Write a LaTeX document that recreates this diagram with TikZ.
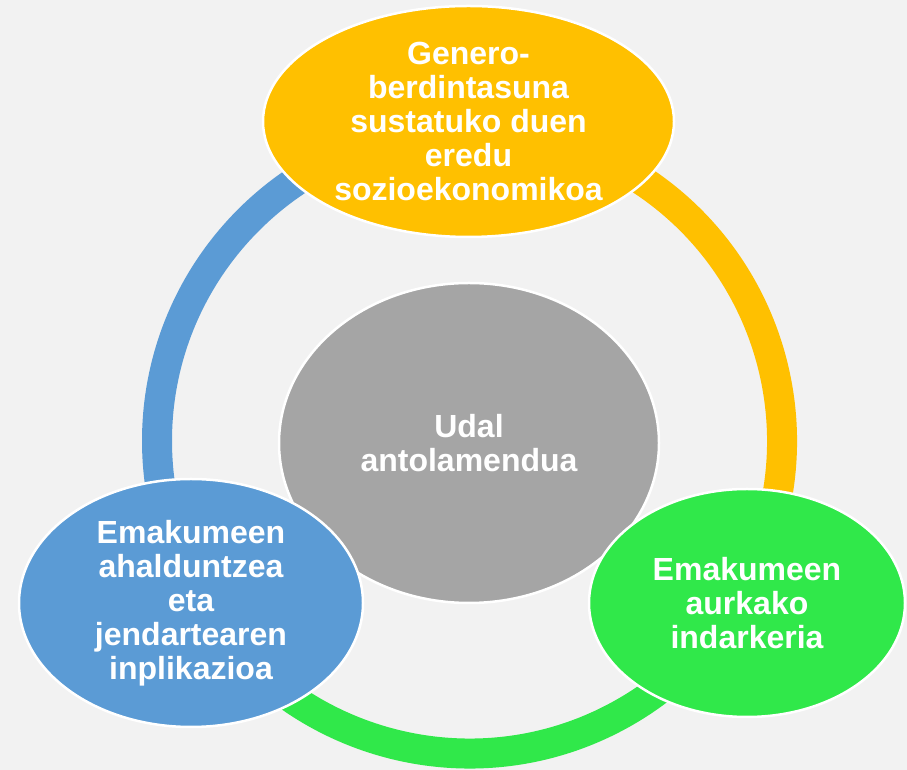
\documentclass[tikz,border=0pt]{standalone}
\usepackage{fontspec}
\setmainfont{Liberation Sans}
\usetikzlibrary{shapes.geometric}
\definecolor{bgc}{HTML}{F2F2F2}
\definecolor{yelc}{HTML}{FFC000}
\definecolor{bluc}{HTML}{5B9BD5}
\definecolor{grnc}{HTML}{30E84A}
\definecolor{gryc}{HTML}{A5A5A5}
\tikzset{
  ringarc/.style={line width=30pt},
  blob/.style={ellipse, draw=white, line width=2.5pt, inner sep=0pt},
  txt/.style={text=white, align=center, font=\fontsize{32}{34}\selectfont\bfseries, inner sep=0pt}
}
\begin{document}
\begin{tikzpicture}[x=1pt,y=1pt]
\fill[bgc] (0,0) rectangle (907,770);
\useasboundingbox (0,0) rectangle (907,770);
\coordinate (rc) at (469.5,329);
% ring arcs
\draw[ringarc, bluc] ([shift={(90:312.5)}]rc) arc[start angle=90, end angle=210, radius=312.5];
\draw[ringarc, yelc] ([shift={(-30:312.5)}]rc) arc[start angle=-30, end angle=90, radius=312.5];
\draw[ringarc, grnc] ([shift={(210:312.5)}]rc) arc[start angle=210, end angle=330, radius=312.5];
% ellipses
\node[blob, fill=gryc, minimum width=380pt, minimum height=320pt] (ud) at (469,327) {};
\node[blob, fill=yelc, minimum width=411pt, minimum height=231pt] (ge) at (468.5,648.5) {};
\node[blob, fill=bluc, minimum width=344pt, minimum height=248pt] (ah) at (191,167) {};
\node[blob, fill=grnc, minimum width=316pt, minimum height=228pt] (ind) at (747,167) {};
% texts
\node[txt] (udt) at (ud) {Udal\\antolamendua};
\node[txt] (get) at (ge) {Genero-\\berdintasuna\\sustatuko duen\\eredu\\sozioekonomikoa};
\node[txt] (aht) at (ah) {Emakumeen\\ahalduntzea\\eta\\jendartearen\\inplikazioa};
\node[txt] (indt) at (ind) {Emakumeen\\aurkako\\indarkeria};
\end{tikzpicture}
\end{document}
